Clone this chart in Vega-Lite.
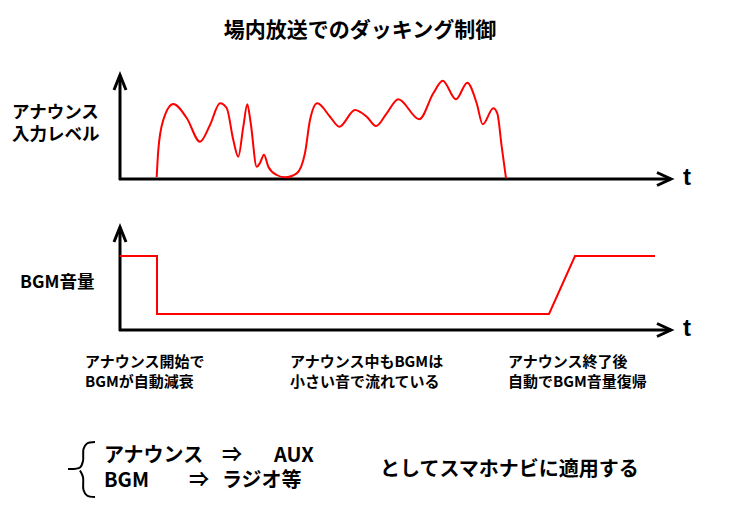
{
  "$schema": "https://vega.github.io/schema/vega-lite/v6.json",
  "width": 735,
  "height": 520,
  "padding": 0,
  "autosize": {"type": "none"},
  "background": "white",
  "config": {"view": {"stroke": null}},
  "encoding": {
    "x": {"field": "x", "type": "quantitative", "scale": {"domain": [0, 735], "nice": false, "zero": false}, "axis": null},
    "y": {"field": "y", "type": "quantitative", "scale": {"domain": [0, 520], "nice": false, "zero": false, "reverse": true}, "axis": null}
  },
  "layer": [
    {
      "data": {"values": [
        {"g": "v1", "o": 1, "x": 120, "y": 180}, {"g": "v1", "o": 2, "x": 120, "y": 75},
        {"g": "a1", "o": 1, "x": 114, "y": 90}, {"g": "a1", "o": 2, "x": 120, "y": 75}, {"g": "a1", "o": 3, "x": 126, "y": 90},
        {"g": "h1", "o": 1, "x": 119, "y": 179}, {"g": "h1", "o": 2, "x": 671, "y": 179},
        {"g": "b1", "o": 1, "x": 657, "y": 172.5}, {"g": "b1", "o": 2, "x": 671, "y": 179}, {"g": "b1", "o": 3, "x": 657, "y": 185.5},
        {"g": "v2", "o": 1, "x": 120, "y": 331}, {"g": "v2", "o": 2, "x": 120, "y": 227},
        {"g": "a2", "o": 1, "x": 114, "y": 242}, {"g": "a2", "o": 2, "x": 120, "y": 227}, {"g": "a2", "o": 3, "x": 126, "y": 242},
        {"g": "h2", "o": 1, "x": 119, "y": 330}, {"g": "h2", "o": 2, "x": 671, "y": 330},
        {"g": "b2", "o": 1, "x": 657, "y": 323.5}, {"g": "b2", "o": 2, "x": 671, "y": 330}, {"g": "b2", "o": 3, "x": 657, "y": 336.5}
      ]},
      "mark": {"type": "line", "color": "black", "strokeWidth": 3, "strokeJoin": "miter"},
      "encoding": {"detail": {"field": "g"}, "order": {"field": "o", "type": "quantitative"}}
    },
    {
      "data": {"values": [
        {"x": 156.7, "y": 177}, {"x": 158.3, "y": 150}, {"x": 163.3, "y": 120}, {"x": 173.3, "y": 104},
        {"x": 186.7, "y": 118}, {"x": 200, "y": 141.7}, {"x": 210, "y": 125}, {"x": 220, "y": 103.3},
        {"x": 226.7, "y": 108}, {"x": 233.3, "y": 140}, {"x": 238.3, "y": 156.7}, {"x": 243.3, "y": 126.7},
        {"x": 247.3, "y": 104.3}, {"x": 250.7, "y": 123}, {"x": 256.7, "y": 166.7}, {"x": 260, "y": 163},
        {"x": 264, "y": 154.7}, {"x": 268.3, "y": 166.7}, {"x": 276.7, "y": 175}, {"x": 285, "y": 177.3},
        {"x": 296.7, "y": 173.3}, {"x": 305, "y": 153}, {"x": 310, "y": 120}, {"x": 317.3, "y": 103.3},
        {"x": 330, "y": 116.7}, {"x": 339.3, "y": 126.7}, {"x": 355, "y": 110}, {"x": 366.7, "y": 116.7},
        {"x": 376, "y": 126}, {"x": 386.7, "y": 113.3}, {"x": 398.3, "y": 99.3}, {"x": 419.3, "y": 119.3},
        {"x": 433.3, "y": 93.3}, {"x": 442.7, "y": 80.7}, {"x": 456, "y": 99.3}, {"x": 467.3, "y": 82.7},
        {"x": 476.7, "y": 103.3}, {"x": 482.7, "y": 124.3}, {"x": 493.3, "y": 108.3}, {"x": 497.3, "y": 113.3},
        {"x": 501.7, "y": 146.7}, {"x": 506, "y": 178.3}
      ]},
      "mark": {"type": "line", "color": "#ff0000", "strokeWidth": 2, "interpolate": "monotone"},
      "encoding": {}
    },
    {
      "data": {"values": [
        {"o": 1, "x": 120, "y": 256}, {"o": 2, "x": 157, "y": 256}, {"o": 3, "x": 157, "y": 314},
        {"o": 4, "x": 549, "y": 314}, {"o": 5, "x": 575, "y": 256}, {"o": 6, "x": 655, "y": 256}
      ]},
      "mark": {"type": "line", "color": "#ff0000", "strokeWidth": 2},
      "encoding": {"order": {"field": "o", "type": "quantitative"}}
    },
    {
      "data": {"values": [
        {"g": "t", "o": 1, "x": 95, "y": 442}, {"g": "t", "o": 2, "x": 87, "y": 443.5}, {"g": "t", "o": 3, "x": 83.5, "y": 449},
        {"g": "t", "o": 4, "x": 83, "y": 461}, {"g": "t", "o": 5, "x": 80, "y": 467.5}, {"g": "t", "o": 6, "x": 68, "y": 469},
        {"g": "b", "o": 1, "x": 80, "y": 470.5}, {"g": "b", "o": 2, "x": 83, "y": 477}, {"g": "b", "o": 3, "x": 83.5, "y": 490},
        {"g": "b", "o": 4, "x": 87, "y": 495.5}, {"g": "b", "o": 5, "x": 95, "y": 497}
      ]},
      "mark": {"type": "line", "color": "black", "strokeWidth": 2, "interpolate": "catmull-rom"},
      "encoding": {"detail": {"field": "g"}, "order": {"field": "o", "type": "quantitative"}}
    },
    {
      "data": {"values": [{"x": 360, "y": 31, "label": "場内放送でのダッキング制御"}]},
      "mark": {"type": "text", "font": "Noto Sans CJK JP", "fontSize": 21, "fontWeight": "bold", "align": "center", "baseline": "middle", "color": "black"},
      "encoding": {"text": {"field": "label"}}
    },
    {
      "data": {"values": [
        {"x": 12, "y": 113, "label": "アナウンス"}, {"x": 12, "y": 135, "label": "入力レベル"}, {"x": 20, "y": 283, "label": "BGM音量"}
      ]},
      "mark": {"type": "text", "font": "Noto Sans CJK JP", "fontSize": 17.5, "fontWeight": "bold", "align": "left", "baseline": "middle", "color": "black"},
      "encoding": {"text": {"field": "label"}}
    },
    {
      "data": {"values": [{"x": 683, "y": 178, "label": "t"}, {"x": 683, "y": 329, "label": "t"}]},
      "mark": {"type": "text", "font": "Liberation Sans", "fontSize": 24, "fontWeight": "bold", "align": "left", "baseline": "middle", "color": "black"},
      "encoding": {"text": {"field": "label"}}
    },
    {
      "data": {"values": [
        {"x": 85, "y": 362, "label": "アナウンス開始で"}, {"x": 85, "y": 382, "label": "BGMが自動減衰"},
        {"x": 290, "y": 362, "label": "アナウンス中もBGMは"}, {"x": 290, "y": 382, "label": "小さい音で流れている"},
        {"x": 508, "y": 362, "label": "アナウンス終了後"}, {"x": 508, "y": 382, "label": "自動でBGM音量復帰"}
      ]},
      "mark": {"type": "text", "font": "Noto Sans CJK JP", "fontSize": 15, "fontWeight": "bold", "align": "left", "baseline": "middle", "color": "black"},
      "encoding": {"text": {"field": "label"}}
    },
    {
      "data": {"values": [
        {"x": 104, "y": 456, "label": "アナウンス"}, {"x": 222, "y": 456, "label": "⇒"}, {"x": 274, "y": 456, "label": "AUX"},
        {"x": 104, "y": 481, "label": "BGM"}, {"x": 189, "y": 481, "label": "⇒"}, {"x": 222, "y": 481, "label": "ラジオ等"},
        {"x": 380, "y": 470, "label": "としてスマホナビに適用する"}
      ]},
      "mark": {"type": "text", "font": "Noto Sans CJK JP", "fontSize": 20, "fontWeight": "bold", "align": "left", "baseline": "middle", "color": "black"},
      "encoding": {"text": {"field": "label"}}
    }
  ]
}
